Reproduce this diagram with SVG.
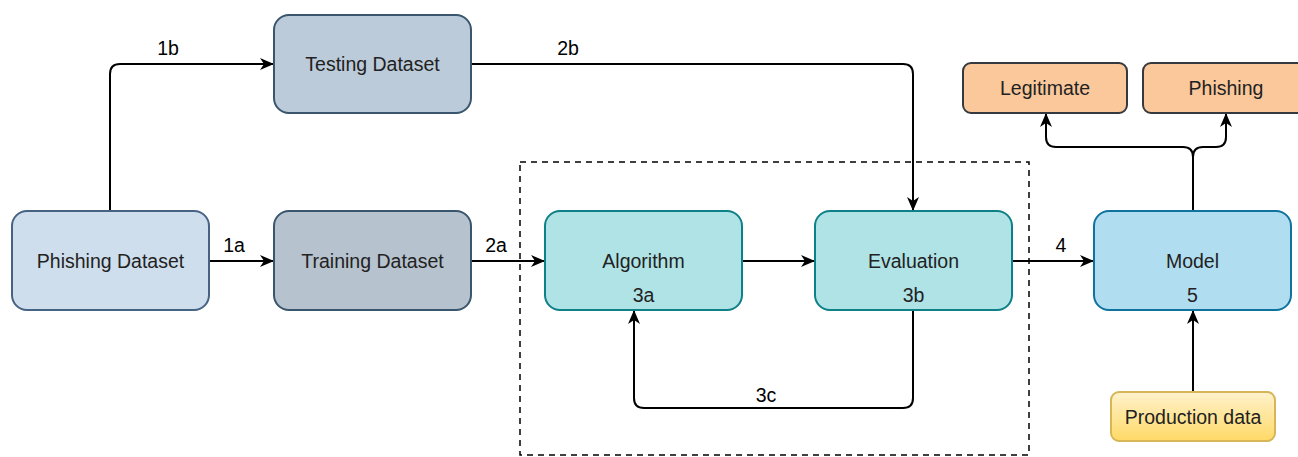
<svg xmlns="http://www.w3.org/2000/svg" width="1298" height="457" viewBox="0 0 1298 457">
<style>
.t{font-family:"Liberation Sans",Arial,sans-serif;font-size:19.5px;fill:#222;text-anchor:middle}
.l{font-family:"Liberation Sans",Arial,sans-serif;font-size:19.5px;fill:#000;text-anchor:middle}
.c{fill:none;stroke:#000;stroke-width:2;marker-end:url(#ah)}
.n{stroke-width:2}
</style>
<defs>
<marker id="ah" viewBox="0 0 14 12" refX="13" refY="6" markerWidth="14" markerHeight="12" markerUnits="userSpaceOnUse" orient="auto">
<path d="M0,0 L14,6 L0,12 L4,6 Z" fill="#000"/>
</marker>
<linearGradient id="pg" x1="0" y1="0" x2="0" y2="1">
<stop offset="0" stop-color="#fff2cc"/>
<stop offset="1" stop-color="#ffd966"/>
</linearGradient>
</defs>
<rect x="520" y="162" width="509" height="293" fill="none" stroke="#000" stroke-width="1.5" stroke-dasharray="6,5"/>
<g id="connectors">
<path class="c" d="M110,211 V74 Q110,64 120,64 H273"/>
<path class="c" d="M209,261 H273"/>
<path class="c" d="M471,64 H903 Q913,64 913,74 V210"/>
<path class="c" d="M471,261 H544"/>
<path class="c" d="M742,261 H814"/>
<path class="c" d="M913,310 V398 Q913,408 903,408 H644 Q634,408 634,398 V311"/>
<path class="c" d="M1012,261 H1093"/>
<path class="c" d="M1193,211 V157 Q1193,147 1183,147 H1056 Q1046,147 1046,137 V114"/>
<path class="c" d="M1193,211 V157 Q1193,147 1203,147 H1216 Q1226,147 1226,137 V114"/>
<path class="c" d="M1193,392 V311"/>
<text class="l" x="168" y="55">1b</text>
<text class="l" x="234" y="252">1a</text>
<text class="l" x="568" y="55">2b</text>
<text class="l" x="496" y="252">2a</text>
<text class="l" x="766" y="402">3c</text>
<text class="l" x="1061" y="252">4</text>
</g>
<g id="phishing-dataset"><rect class="n" x="12" y="211" width="197" height="99" rx="15" fill="#cfdeed" stroke="#466383"/><text class="t" x="110.5" y="268">Phishing Dataset</text></g>
<g id="testing-dataset"><rect class="n" x="274" y="15" width="197" height="98" rx="15" fill="#bccbd9" stroke="#3a566e"/><text class="t" x="372.5" y="71">Testing Dataset</text></g>
<g id="training-dataset"><rect class="n" x="274" y="211" width="197" height="99" rx="15" fill="#b6c2cd" stroke="#3a566e"/><text class="t" x="372.5" y="268">Training Dataset</text></g>
<g id="algorithm"><rect class="n" x="545" y="211" width="197" height="99" rx="15" fill="#b0e3e6" stroke="#0e8088"/><text class="t" x="643.5" y="268">Algorithm</text><text class="t" x="643.5" y="302">3a</text></g>
<g id="evaluation"><rect class="n" x="815" y="211" width="197" height="99" rx="15" fill="#b0e3e6" stroke="#0e8088"/><text class="t" x="913.5" y="268">Evaluation</text><text class="t" x="913.5" y="302">3b</text></g>
<g id="model"><rect class="n" x="1094" y="211" width="197" height="99" rx="15" fill="#b1ddf0" stroke="#10739e"/><text class="t" x="1192.5" y="268">Model</text><text class="t" x="1192.5" y="302">5</text></g>
<g id="legitimate"><rect class="n" x="963" y="63" width="164" height="50" rx="8" fill="#fac89b" stroke="#36393d"/><text class="t" x="1045" y="95">Legitimate</text></g>
<g id="phishing"><rect class="n" x="1143" y="63" width="164" height="50" rx="8" fill="#fac89b" stroke="#36393d"/><text class="t" x="1226" y="95">Phishing</text></g>
<g id="production-data"><rect class="n" x="1111" y="392" width="164" height="49" rx="8" fill="url(#pg)" stroke="#d6b656"/><text class="t" x="1193" y="424">Production data</text></g>
</svg>
